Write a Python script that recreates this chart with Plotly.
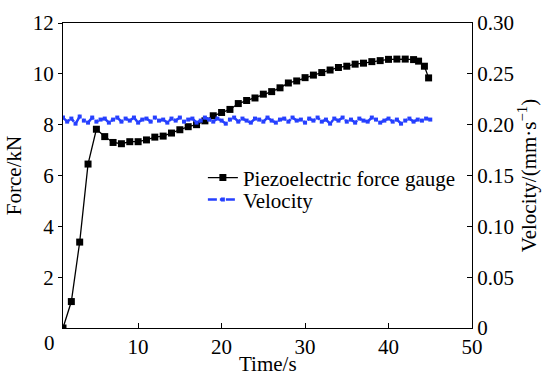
import plotly.graph_objects as go

# Force data (Piezoelectric force gauge)
force_t = [1, 2, 3, 4, 5, 6, 7, 8, 9, 10, 11, 12, 13, 14, 15, 16, 17, 18, 19, 20,
           21, 22, 23, 24, 25, 26, 27, 28, 29, 30, 31, 32, 33, 34, 35, 36, 37, 38,
           39, 40, 41, 42, 43, 43.6, 44.3, 44.8]
force_kn = [0.0, 1.04, 3.38, 6.45, 7.82, 7.53, 7.3, 7.25, 7.33, 7.33, 7.4, 7.51, 7.55,
            7.67, 7.8, 7.92, 8.0, 8.15, 8.35, 8.48, 8.6, 8.83, 8.95, 9.05, 9.2, 9.3,
            9.45, 9.64, 9.72, 9.85, 9.95, 10.05, 10.15, 10.25, 10.3, 10.38, 10.42,
            10.48, 10.52, 10.57, 10.58, 10.58, 10.56, 10.5, 10.3, 9.84]

# Velocity data
vel_t = [1.0, 1.5, 2.0, 2.5, 3.0, 3.5, 4.0, 4.5, 5.0, 5.5, 6.0, 6.5, 7.0, 7.5, 8.0, 8.5,
         9.0, 9.5, 10.0, 10.5, 11.0, 11.5, 12.0, 12.5, 13.0, 13.5, 14.0, 14.5, 15.0,
         15.5, 16.0, 16.5, 17.0, 17.5, 18.0, 18.5, 19.0, 19.5, 20.0, 20.5, 21.0, 21.5,
         22.0, 22.5, 23.0, 23.5, 24.0, 24.5, 25.0, 25.5, 26.0, 26.5, 27.0, 27.5, 28.0,
         28.5, 29.0, 29.5, 30.0, 30.5, 31.0, 31.5, 32.0, 32.5, 33.0, 33.5, 34.0, 34.5,
         35.0, 35.5, 36.0, 36.5, 37.0, 37.5, 38.0, 38.5, 39.0, 39.5, 40.0, 40.5, 41.0,
         41.5, 42.0, 42.5, 43.0, 43.5, 44.0, 44.5, 45.0]
vel = [0.207, 0.203, 0.206, 0.201, 0.208, 0.204, 0.202, 0.207, 0.203, 0.205, 0.206,
       0.202, 0.205, 0.207, 0.203, 0.206, 0.204, 0.207, 0.202, 0.205, 0.206, 0.203,
       0.207, 0.204, 0.205, 0.202, 0.206, 0.204, 0.207, 0.203, 0.205, 0.206, 0.202,
       0.204, 0.207, 0.205, 0.203, 0.206, 0.204, 0.201, 0.205, 0.207, 0.203, 0.206,
       0.204, 0.202, 0.206, 0.205, 0.203, 0.207, 0.204, 0.202, 0.205, 0.206, 0.203,
       0.207, 0.204, 0.205, 0.202, 0.206, 0.204, 0.207, 0.203, 0.205, 0.201, 0.206,
       0.204, 0.207, 0.203, 0.205, 0.202, 0.206, 0.204, 0.203, 0.207, 0.205, 0.202,
       0.204, 0.206, 0.203, 0.205, 0.201, 0.204, 0.206, 0.203, 0.205, 0.204, 0.206,
       0.205]

x_ticks = [10, 20, 30, 40, 50]
force_ticks = [2, 4, 6, 8, 10, 12]
vel_ticks = [0, 0.05, 0.10, 0.15, 0.20, 0.25, 0.30]
vel_ticktext = ["0", "0.05", "0.10", "0.15", "0.20", "0.25", "0.30"]

FONT = "Liberation Serif, Times New Roman, serif"
BLUE = "rgb(38,64,255)"
FS = 21

fig = go.Figure()
fig.add_trace(go.Scatter(
    x=force_t, y=force_kn, name="Piezoelectric force gauge",
    mode="lines+markers", legend="legend",
    line=dict(color="black", width=1.3),
    marker=dict(symbol="square", size=7, color="black"),
))
fig.add_trace(go.Scatter(
    x=vel_t, y=vel, name="Velocity", yaxis="y2", legend="legend2",
    mode="lines+markers",
    line=dict(color=BLUE, width=2.5, dash="dashdot"),
    marker=dict(symbol="square", size=4, color=BLUE),
))

axis_common = dict(showline=True, linecolor="black", linewidth=1.2, showgrid=False,
                   zeroline=False, tickcolor="black", automargin=False,
                   tickfont=dict(family=FONT, size=FS, color="black"))

legend_common = dict(xanchor="left", yanchor="middle", bgcolor="rgba(0,0,0,0)",
                     font=dict(family=FONT, size=FS, color="black"))

fig.update_layout(
    width=544, height=374,
    margin=dict(l=63, r=72, t=23, b=46, autoexpand=False),
    plot_bgcolor="white", paper_bgcolor="white",
    font=dict(family=FONT, size=FS, color="black"),
    showlegend=True,
    legend=dict(x=0.342, y=0.492, **legend_common),
    legend2=dict(x=0.342, y=0.42, **legend_common),
    xaxis=dict(range=[1, 50], tickvals=x_ticks, ticks="inside", ticklen=5,
               mirror=True, **axis_common),
    yaxis=dict(range=[0, 12], tickvals=force_ticks, ticks="outside", ticklen=4,
               title=dict(text="Force/kN", standoff=5, font=dict(family=FONT, size=FS)),
               **axis_common),
    yaxis2=dict(range=[0, 0.30], tickvals=vel_ticks, ticktext=vel_ticktext,
                overlaying="y", side="right", ticks="inside", ticklen=5,
                title=dict(text="Velocity/(mm·s<sup>−1</sup>)", standoff=2,
                           font=dict(family=FONT, size=FS)),
                **axis_common),
    annotations=[
        dict(text="0", xref="paper", yref="paper", x=-0.034, y=0,
             xanchor="center", yanchor="top", yshift=-1, showarrow=False,
             font=dict(family=FONT, size=FS, color="black")),
        dict(text="Time/s", xref="paper", yref="paper", x=0.5, y=0,
             xanchor="center", yanchor="top", yshift=-22, showarrow=False,
             font=dict(family=FONT, size=FS, color="black")),
    ],
)

fig.write_html("out.html", config={"displayModeBar": False},
               post_script="document.body.style.margin='0';")
